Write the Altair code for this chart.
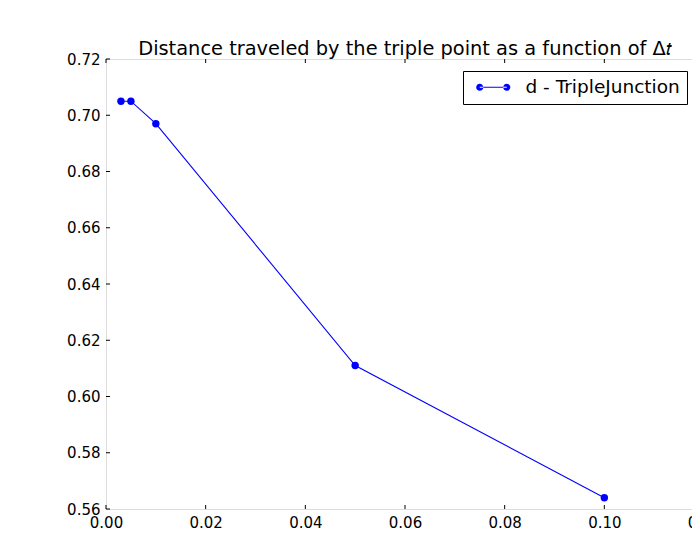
import altair as alt
import pandas as pd

# ---- data ----
dt_values = [0.003, 0.005, 0.01, 0.05, 0.10]
dist_values = [0.705, 0.705, 0.697, 0.611, 0.564]
series_name = "d - TripleJunction"
x_ticks = [0.00, 0.02, 0.04, 0.06, 0.08, 0.10, 0.12]
y_ticks = [0.56, 0.58, 0.60, 0.62, 0.64, 0.66, 0.68, 0.70, 0.72]
title_text = "Distance traveled by the triple point as a function of Δ𝑡"

df = pd.DataFrame({"dt": dt_values, "d": dist_values, "series": [series_name] * len(dt_values)})
xt = pd.DataFrame({"t": x_ticks})
yt = pd.DataFrame({"t": y_ticks})

W, H = 598, 450
TICK = 4
FONT = "DejaVu Sans"

xscale = alt.Scale(domain=[0.0, 0.12], nice=False, zero=False)
yscale = alt.Scale(domain=[0.56, 0.72], nice=False, zero=False)

xaxis = alt.Axis(values=x_ticks, format=".2f", ticks=False, domain=False, grid=False,
                 labelPadding=6, labelFontSize=15, labelFont=FONT, labelColor="black",
                 labelFlush=False, labelOverlap=False, title=None)
yaxis = alt.Axis(values=y_ticks, format=".2f", ticks=False, domain=False, grid=False,
                 labelPadding=6, labelFontSize=15, labelFont=FONT, labelColor="black",
                 labelFlush=False, labelOverlap=False, title=None)

def X(field):
    return alt.X(field, type="quantitative", scale=xscale, axis=xaxis)

def Y(field):
    return alt.Y(field, type="quantitative", scale=yscale, axis=yaxis)

# legend glyph: a short line with a dot at each end (unit = 7 px)
legend_symbol = (
    "M-1.93,-0.07 L1.93,-0.07 L1.93,0.07 L-1.93,0.07 Z "
    "M-2.44,0 A0.51,0.51 0 1 0 -1.42,0 A0.51,0.51 0 1 0 -2.44,0 Z "
    "M1.42,0 A0.51,0.51 0 1 0 2.44,0 A0.51,0.51 0 1 0 1.42,0 Z"
)

line = alt.Chart(df).mark_line(color="#0000ff", strokeWidth=1.1).encode(
    x=X("dt"), y=Y("d")
)

points = alt.Chart(df).mark_point(filled=True, size=55, opacity=1).encode(
    x=X("dt"),
    y=Y("d"),
    color=alt.Color(
        "series:N",
        scale=alt.Scale(domain=[series_name], range=["#0000ff"]),
        legend=alt.Legend(
            title=None, orient="none", legendX=357, legendY=12,
            strokeColor="black", fillColor="white", padding=7, cornerRadius=0,
            labelFont=FONT, labelFontSize=18.5, labelColor="black", labelOffset=23,
            symbolType=legend_symbol, symbolSize=196, symbolStrokeWidth=0,
            symbolFillColor="#0000ff", symbolOpacity=1, symbolOffset=14,
        ),
    ),
)

tick_style = dict(color="black", strokeWidth=1)
bottom_ticks = alt.Chart(xt).mark_rule(**tick_style).encode(
    x=X("t"), y=alt.value(H), y2=alt.value(H - TICK))
top_ticks = alt.Chart(xt).mark_rule(**tick_style).encode(
    x=X("t"), y=alt.value(0), y2=alt.value(TICK))
left_ticks = alt.Chart(yt).mark_rule(**tick_style).encode(
    y=Y("t"), x=alt.value(0), x2=alt.value(TICK))
right_ticks = alt.Chart(yt).mark_rule(**tick_style).encode(
    y=Y("t"), x=alt.value(W - TICK), x2=alt.value(W))

chart = alt.layer(bottom_ticks, top_ticks, left_ticks, right_ticks, line, points).properties(
    width=W,
    height=H,
    title=alt.Title(text=title_text, fontSize=19.4, font=FONT, fontWeight="normal",
                    color="black", offset=6, dy=28, baseline="alphabetic", anchor="middle"),
    autosize=alt.AutoSizeParams(type="none"),
    padding={"left": 98, "top": 51, "right": -12, "bottom": 21},
).configure_view(
    stroke="black", strokeWidth=1
).configure(background="white")

chart.save("out.html", embed_options={"renderer": "svg", "actions": False})
